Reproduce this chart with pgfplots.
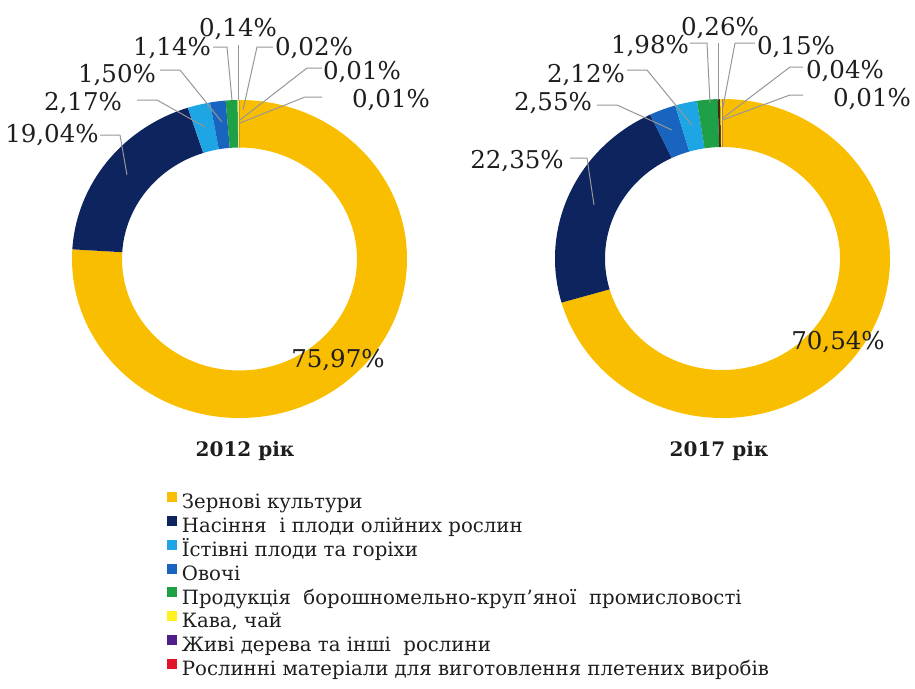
\documentclass[border=0pt]{standalone}
\usepackage{fontspec}
\setmainfont{DejaVu Serif}
\usepackage{pgfplots}
\usepackage{pgfplotstable}
\pgfplotsset{compat=1.18}

\definecolor{cGrain}{RGB}{250,190,0}
\definecolor{cOil}{RGB}{14,36,94}
\definecolor{cFruit}{RGB}{30,165,228}
\definecolor{cVeg}{RGB}{24,100,190}
\definecolor{cFlour}{RGB}{30,160,70}
\definecolor{cTea}{RGB}{255,240,30}
\definecolor{cTree}{RGB}{80,30,140}
\definecolor{cMat}{RGB}{225,20,40}
\definecolor{cOther}{RGB}{150,150,150}
\definecolor{cDark}{RGB}{70,40,10}
\definecolor{cText}{RGB}{30,30,30}
\definecolor{cLead}{RGB}{150,150,150}

\tikzset{
  lab/.style={anchor=base, inner sep=0pt, text=cText, font=\fontsize{24.5}{28}\selectfont},
  yr/.style={anchor=base, inner sep=0pt, text=cText, font=\fontsize{20}{24}\selectfont\bfseries},
  lead/.style={draw=cLead, line width=1pt},
}

% 2012
\pgfplotstableread{
value color
75.97 cGrain
19.04 cOil
2.17 cFruit
1.50 cVeg
1.14 cFlour
0.14 cTea
0.02 cTree
0.01 cMat
0.01 cOther
}\dataA
% 2017
\pgfplotstableread{
value color
70.54 cGrain
22.35 cOil
2.55 cVeg
2.12 cFruit
1.98 cFlour
0.26 cDark
0.15 cTea
0.04 cTree
0.01 cMat
}\dataB

% #1 table, #2 cx, #3 cy (pixel, y down), #4 rx, #5 ry, #6 inner rx, #7 inner ry
\newcommand\donut[7]{%
  \pgfplotstablegetrowsof{#1}%
  \pgfmathtruncatemacro\lastrow{\pgfplotsretval-1}%
  \gdef\cumsum{0}%
  \foreach \k in {0,...,\lastrow}{%
    \pgfplotstablegetelem{\k}{value}\of{#1}\let\val\pgfplotsretval
    \pgfplotstablegetelem{\k}{color}\of{#1}\let\col\pgfplotsretval
    \pgfmathsetmacro\angA{90-3.6*\cumsum}%
    \pgfmathsetmacro\newcum{\cumsum+\val}%
    \xdef\cumsum{\newcum}%
    \pgfmathsetmacro\angB{90-3.6*\cumsum}%
    \pgfmathsetmacro\xo{#2+#4*cos(\angA)}%
    \pgfmathsetmacro\yo{#3-#5*sin(\angA)}%
    \pgfmathsetmacro\xi{#2+#6*cos(\angB)}%
    \pgfmathsetmacro\yi{#3-#7*sin(\angB)}%
    \edef\temp{\noexpand\fill[\col] (axis cs:\xo,\yo) arc[start angle=\angA, end angle=\angB, x radius=#4pt, y radius=#5pt] -- (axis cs:\xi,\yi) arc[start angle=\angB, end angle=\angA, x radius=#6pt, y radius=#7pt] -- cycle;}%
    \temp
  }%
}

\begin{document}
\begin{tikzpicture}
\begin{axis}[
  x=1pt, y=1pt, y dir=reverse,
  xmin=0, xmax=915, ymin=0, ymax=688,
  hide axis, clip=false,
  legend style={at={(axis cs:167,492)}, anchor=north west, draw=none, fill=none,
    inner sep=0pt, outer sep=0pt, row sep=0pt,
    font=\fontsize{19.7}{24}\selectfont,
    nodes={text height=16pt, text depth=6pt, inner ysep=0.9pt, inner xsep=5.5pt, text=cText},
    /tikz/every even column/.style={column sep=0pt},
    /tikz/every odd column/.style={column sep=0pt}},
  legend cell align=left,
]
\path (axis cs:0,0) rectangle (axis cs:915,688);

\donut{\dataA}{239.5}{259}{167.5}{159}{117.5}{111.5}
\donut{\dataB}{722.5}{258.5}{167.5}{159.5}{117.5}{111.5}

% leader lines 2012
\draw[lead] (100,135) -- (120,135) -- (127,175);
\draw[lead] (137,100) -- (157,100) -- (205,127);
\draw[lead] (160,70) -- (180,70) -- (222,122);
\draw[lead] (213,47) -- (227,47) -- (232,100);
\draw[lead] (238,45) -- (238,100);
\draw[lead] (273,47) -- (257,47) -- (243,110);
\draw[lead] (322,68) -- (307,68) -- (240,120);
\draw[lead] (322,97) -- (305,97) -- (240,123);
% leader lines 2017
\draw[lead] (570,158) -- (587,158) -- (594,205);
\draw[lead] (597,105) -- (617,105) -- (672,130);
\draw[lead] (627,70) -- (647,70) -- (692,125);
\draw[lead] (690,43) -- (707,43) -- (710,103);
\draw[lead] (718,43) -- (718,100);
\draw[lead] (755,43) -- (735,43) -- (723,107);
\draw[lead] (803,67) -- (790,67) -- (723,118);
\draw[lead] (803,95) -- (790,95) -- (722,120);

% labels 2012
\node[lab] at (238,36) {0,14\%};
\node[lab] at (172,55) {1,14\%};
\node[lab] at (314,55) {0,02\%};
\node[lab] at (117,82) {1,50\%};
\node[lab] at (362,79) {0,01\%};
\node[lab] at (83,110) {2,17\%};
\node[lab] at (391,107) {0,01\%};
\node[lab] at (52,142) {19,04\%};
\node[lab] at (338,367) {75,97\%};
% labels 2017
\node[lab] at (720,35) {0,26\%};
\node[lab] at (650,53) {1,98\%};
\node[lab] at (796,54) {0,15\%};
\node[lab] at (586,82) {2,12\%};
\node[lab] at (845,78) {0,04\%};
\node[lab] at (553,110) {2,55\%};
\node[lab] at (872,106) {0,01\%};
\node[lab] at (517,168) {22,35\%};
\node[lab] at (838,349) {70,54\%};

\node[yr] at (245,456) {2012 рік};
\node[yr] at (719,456) {2017 рік};

\addlegendimage{legend image code/.code={\fill[cGrain] (0pt,2.5pt) rectangle (9pt,11.5pt);}}
\addlegendentry{Зернові культури}
\addlegendimage{legend image code/.code={\fill[cOil] (0pt,2.5pt) rectangle (9pt,11.5pt);}}
\addlegendentry{Насіння\ \ і плоди олійних рослин}
\addlegendimage{legend image code/.code={\fill[cFruit] (0pt,2.5pt) rectangle (9pt,11.5pt);}}
\addlegendentry{Їстівні плоди та горіхи}
\addlegendimage{legend image code/.code={\fill[cVeg] (0pt,2.5pt) rectangle (9pt,11.5pt);}}
\addlegendentry{Овочі}
\addlegendimage{legend image code/.code={\fill[cFlour] (0pt,2.5pt) rectangle (9pt,11.5pt);}}
\addlegendentry{Продукція\ \ борошномельно-круп’яної\ \ промисловості}
\addlegendimage{legend image code/.code={\fill[cTea] (0pt,2.5pt) rectangle (9pt,11.5pt);}}
\addlegendentry{Кава, чай}
\addlegendimage{legend image code/.code={\fill[cTree] (0pt,2.5pt) rectangle (9pt,11.5pt);}}
\addlegendentry{Живі дерева та інші\ \ рослини}
\addlegendimage{legend image code/.code={\fill[cMat] (0pt,2.5pt) rectangle (9pt,11.5pt);}}
\addlegendentry{Рослинні матеріали для виготовлення плетених виробів}
\end{axis}
\end{tikzpicture}
\end{document}
